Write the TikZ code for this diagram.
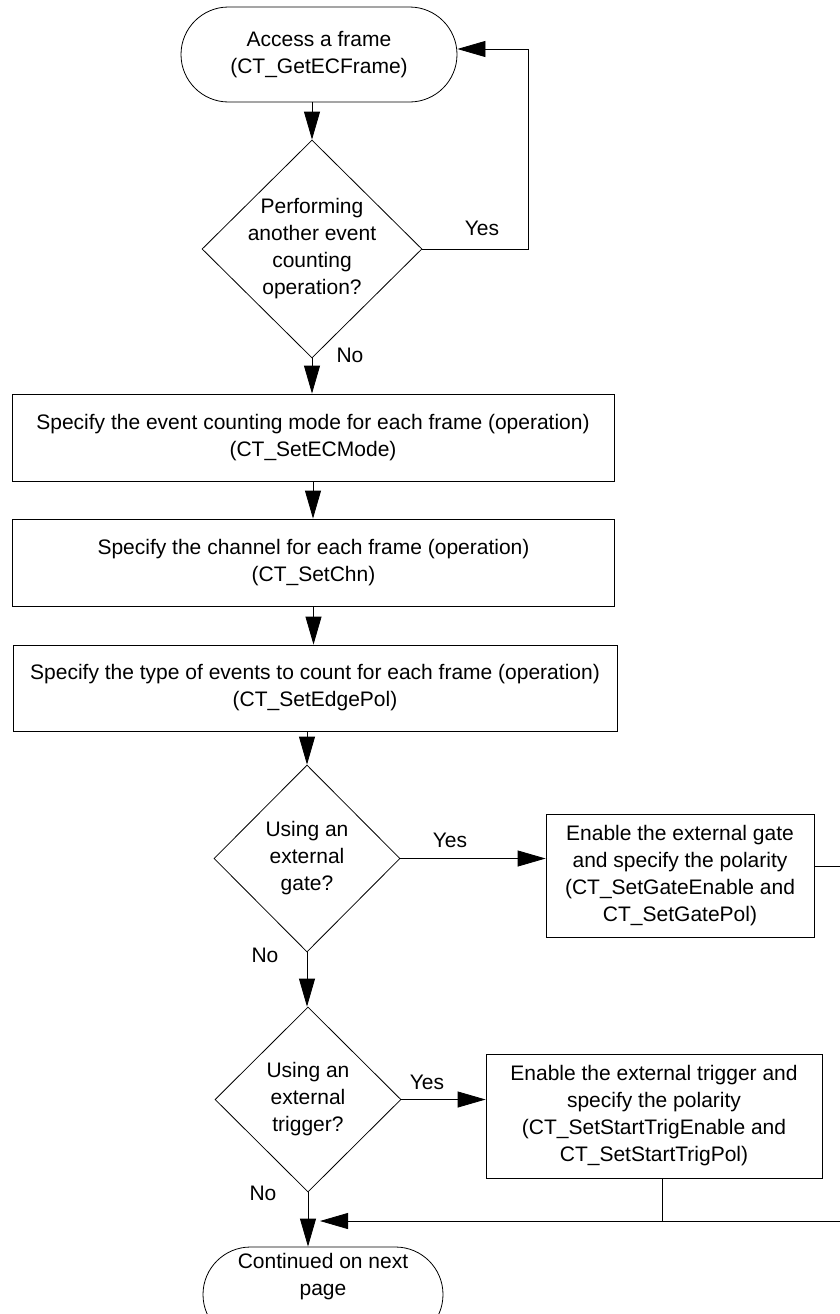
\documentclass[tikz,border=0pt]{standalone}
\usepackage{fontspec}
\setmainfont{Liberation Sans}
\usetikzlibrary{arrows.meta,shapes.geometric,shapes.misc}

\begin{document}
\begin{tikzpicture}[>={Triangle[length=28bp,width=16bp]}, line width=0.8bp,
  every node/.style={font=\fontsize{21bp}{27bp}\selectfont, align=center},
  term/.style={draw, rounded rectangle, inner sep=0pt},
  decision/.style={draw, diamond, inner sep=-6bp},
  process/.style={draw, rectangle, inner sep=0pt}]
%%
  \useasboundingbox (0,0) rectangle (840bp,-1314bp);
  \clip (0,0) rectangle (840bp,-1314bp);
  \node (acc) at (319bp,-54.5bp) [term, minimum width=276bp, minimum height=95bp] {Access a frame\\(CT\_GetECFrame)};
  \node (d1) at (312bp,-249bp) [decision, minimum width=220bp, minimum height=218bp] {Performing\\another event\\counting\\operation?};
  \node (box1) at (313bp,-437.5bp) [process, minimum width=602bp, minimum height=87bp] {Specify the event counting mode for each frame (operation)\\(CT\_SetECMode)};
  \node (box2) at (313.5bp,-562.5bp) [process, minimum width=602bp, minimum height=87bp] {Specify the channel for each frame (operation)\\(CT\_SetChn)};
  \node (box3) at (315bp,-688bp) [process, minimum width=604bp, minimum height=86bp] {Specify the type of events to count for each frame (operation)\\(CT\_SetEdgePol)};
  \node (d2) at (307bp,-858.5bp) [decision, minimum width=186bp, minimum height=187bp] {Using an\\external\\gate?};
  \node (gate) at (680bp,-875.5bp) [process, minimum width=268bp, minimum height=123bp] {Enable the external gate\\and specify the polarity\\(CT\_SetGateEnable and\\CT\_SetGatePol)};
  \node (d3) at (308bp,-1099.5bp) [decision, minimum width=186bp, minimum height=185bp] {Using an\\external\\trigger?};
  \node (trig) at (654bp,-1116bp) [process, minimum width=336bp, minimum height=124bp] {Enable the external trigger and\\specify the polarity\\(CT\_SetStartTrigEnable and\\CT\_SetStartTrigPol)};
  \node (fin) at (323bp,-1294.5bp) [term, minimum width=240bp, minimum height=95bp, text depth=40bp] {Continued on next\\page};
  \coordinate (join) at (320bp,-1221bp);
  % branch labels
  \node (yes1) at (482bp,-228bp) {Yes};
  \node (no1) at (350bp,-355bp) {No};
  \node (yes2) at (450bp,-840bp) {Yes};
  \node (no2) at (265bp,-955bp) {No};
  \node (yes3) at (427bp,-1082bp) {Yes};
  \node (no3) at (263bp,-1193bp) {No};
  % connectors
  \draw [->] (acc.south -| d1.north) -- (d1.north);
  \draw [->] (d1.east) -- ++(106bp,0) |- ([yshift=5.5bp]acc.east);
  \draw [->] (d1.south) -- (d1.south |- box1.north);
  \draw [->] (box1.south) -- (box1.south |- box2.north);
  \draw [->] (box2.south) -- (box2.south |- box3.north);
  \draw [->] (box3.south -| d2.north) -- (d2.north);
  \draw [->] (d2.east) -- (d2.east -| gate.west);
  \draw [->] (d2.south) -- (d2.south |- d3.north);
  \draw [->] (d3.east) -- (d3.east -| trig.west);
  \draw [->] (d3.south) -- (d3.south |- fin.north);
  \draw [->] ([yshift=9.5bp]gate.east) -- ++(40bp,0) |- (join);
  \draw ([xshift=8bp]trig.south) -- ([xshift=8bp]trig.south |- join);
%
\end{tikzpicture}
\end{document}
